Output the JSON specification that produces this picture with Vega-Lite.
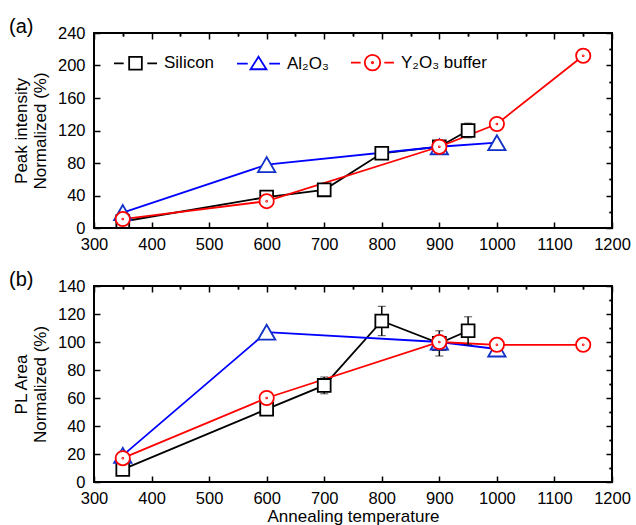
{
  "$schema": "https://vega.github.io/schema/vega-lite/v6.json",
  "padding": {"left": 8, "top": 16, "right": 5, "bottom": 0},
  "config": {
    "font": "Liberation Sans",
    "view": {"stroke": "black", "strokeWidth": 2},
    "axis": {
      "domain": false,
      "grid": false,
      "tickColor": "black",
      "tickWidth": 1.5,
      "labelColor": "black",
      "labelFont": "Liberation Sans",
      "labelFontSize": 16.5,
      "labelOverlap": false,
      "labelFlush": false,
      "format": "d",
      "titleFont": "Liberation Sans",
      "titleFontSize": 17,
      "titleFontWeight": "normal",
      "titleColor": "black"
    },
    "legend": {
      "labelFont": "Liberation Sans",
      "labelFontSize": 17,
      "labelColor": "black",
      "symbolSize": 1849,
      "symbolStrokeWidth": 1.8,
      "symbolFillColor": "white",
      "symbolOpacity": 1,
      "labelOffset": 6,
      "columnPadding": 18,
      "padding": 0
    },
    "title": {
      "font": "Liberation Sans",
      "fontSize": 20,
      "fontWeight": "normal",
      "anchor": "start",
      "frame": "group",
      "dx": -85,
      "dy": 14,
      "offset": 2,
      "color": "black"
    },
    "concat": {"spacing": 15}
  },
  "datasets": {
    "a": [
      {"series": "Silicon", "temp": 350, "value": 8},
      {"series": "Silicon", "temp": 600, "value": 38, "err": 3},
      {"series": "Silicon", "temp": 700, "value": 47, "err": 5},
      {"series": "Silicon", "temp": 800, "value": 92},
      {"series": "Silicon", "temp": 900, "value": 100, "err": 3},
      {"series": "Silicon", "temp": 950, "value": 120, "err": 9},
      {"series": "Al₂O₃", "temp": 350, "value": 19},
      {"series": "Al₂O₃", "temp": 600, "value": 78},
      {"series": "Al₂O₃", "temp": 900, "value": 100},
      {"series": "Al₂O₃", "temp": 1000, "value": 105},
      {"series": "Y₂O₃ buffer", "temp": 350, "value": 11},
      {"series": "Y₂O₃ buffer", "temp": 600, "value": 33},
      {"series": "Y₂O₃ buffer", "temp": 900, "value": 100},
      {"series": "Y₂O₃ buffer", "temp": 1000, "value": 128},
      {"series": "Y₂O₃ buffer", "temp": 1150, "value": 212}
    ],
    "b": [
      {"series": "Silicon", "temp": 350, "value": 9},
      {"series": "Silicon", "temp": 600, "value": 52},
      {"series": "Silicon", "temp": 700, "value": 69, "err": 6},
      {"series": "Silicon", "temp": 800, "value": 115, "err": 10.5},
      {"series": "Silicon", "temp": 900, "value": 99, "err": 9},
      {"series": "Silicon", "temp": 950, "value": 108, "err": 10},
      {"series": "Al₂O₃", "temp": 350, "value": 19},
      {"series": "Al₂O₃", "temp": 600, "value": 107},
      {"series": "Al₂O₃", "temp": 900, "value": 100},
      {"series": "Al₂O₃", "temp": 1000, "value": 95},
      {"series": "Y₂O₃ buffer", "temp": 350, "value": 17},
      {"series": "Y₂O₃ buffer", "temp": 600, "value": 60},
      {"series": "Y₂O₃ buffer", "temp": 900, "value": 100},
      {"series": "Y₂O₃ buffer", "temp": 1000, "value": 98},
      {"series": "Y₂O₃ buffer", "temp": 1150, "value": 98}
    ]
  },
  "vconcat": [
    {
      "title": "(a)",
      "width": 518,
      "height": 195,
      "data": {"name": "a"},
      "resolve": {"axis": {"x": "independent", "y": "independent"}},
      "layer": [
        {
          "transform": [{"filter": "datum.series === 'Silicon'"}],
          "mark": {"type": "line", "strokeWidth": 1.8, "stroke": "#000000"},
          "encoding": {
            "x": {"field": "temp", "type": "quantitative", "scale": {"domain": [300, 1200], "nice": false},
              "axis": {"values": [300, 400, 500, 600, 700, 800, 900, 1000, 1100, 1200], "tickSize": -6, "labelPadding": 14, "title": null}},
            "y": {"field": "value", "type": "quantitative", "scale": {"domain": [0, 240], "nice": false},
              "axis": {"values": [0, 40, 80, 120, 160, 200, 240], "tickSize": -6, "labelPadding": 15, "titlePadding": 8, "title": ["Peak intensity", "Normalized  (%)"]}}
          }
        },
        {
          "transform": [{"filter": "datum.series === 'Al₂O₃'"}],
          "mark": {"type": "line", "strokeWidth": 1.8, "stroke": "#0000ff"},
          "encoding": {
            "x": {"field": "temp", "type": "quantitative", "axis": null},
            "y": {"field": "value", "type": "quantitative", "axis": null}
          }
        },
        {
          "transform": [{"filter": "datum.series === 'Y₂O₃ buffer'"}],
          "mark": {"type": "line", "strokeWidth": 1.8, "stroke": "#ff0000"},
          "encoding": {
            "x": {"field": "temp", "type": "quantitative", "axis": null},
            "y": {"field": "value", "type": "quantitative", "axis": null}
          }
        },
        {
          "transform": [{"filter": "isValid(datum.err)"}],
          "mark": {"type": "errorbar", "color": "black", "ticks": {"size": 8, "strokeWidth": 1.5}, "rule": {"strokeWidth": 1.5}},
          "encoding": {
            "x": {"field": "temp", "type": "quantitative", "axis": null},
            "y": {"field": "value", "type": "quantitative", "axis": null},
            "yError": {"field": "err"}
          }
        },
        {
          "transform": [{"filter": "datum.series === 'Silicon'"}],
          "mark": {"type": "point", "shape": "square", "size": 165, "filled": true, "fill": "white", "stroke": "black", "strokeWidth": 1.8, "opacity": 1},
          "encoding": {
            "x": {"field": "temp", "type": "quantitative",
              "axis": {"values": [350, 450, 550, 650, 750, 850, 950, 1050, 1150], "tickSize": -3, "labels": false, "title": null}},
            "y": {"field": "value", "type": "quantitative",
              "axis": {"values": [20, 60, 100, 140, 180, 220], "tickSize": -3, "labels": false, "title": null}}
          }
        },
        {
          "transform": [{"filter": "datum.series === 'Al₂O₃'"}],
          "mark": {"type": "point", "shape": "triangle-up", "size": 300, "filled": true, "fill": "white", "stroke": "#1030c8", "strokeWidth": 1.8, "opacity": 1},
          "encoding": {
            "x": {"field": "temp", "type": "quantitative",
              "axis": {"orient": "top", "values": [300, 400, 500, 600, 700, 800, 900, 1000, 1100, 1200], "tickSize": -6, "labels": false, "title": null}},
            "y": {"field": "value", "type": "quantitative",
              "axis": {"orient": "right", "values": [0, 40, 80, 120, 160, 200, 240], "tickSize": -6, "labels": false, "title": null}}
          }
        },
        {
          "transform": [{"filter": "datum.series === 'Y₂O₃ buffer'"}],
          "mark": {"type": "point", "shape": "M1,0A1,1 0 1,1 -1,0A1,1 0 1,1 1,0Z M0.06,0A0.06,0.06 0 1,1 -0.06,0A0.06,0.06 0 1,1 0.06,0Z", "size": 204, "filled": true, "fill": "white", "stroke": "#ff0000", "strokeWidth": 1.8, "opacity": 1},
          "encoding": {
            "x": {"field": "temp", "type": "quantitative",
              "axis": {"orient": "top", "values": [350, 450, 550, 650, 750, 850, 950, 1050, 1150], "tickSize": -3, "labels": false, "title": null}},
            "y": {"field": "value", "type": "quantitative",
              "axis": {"orient": "right", "values": [20, 60, 100, 140, 180, 220], "tickSize": -3, "labels": false, "title": null}}
          }
        },
        {
          "mark": {"type": "point", "filled": true, "fill": "white", "opacity": 0},
          "encoding": {
            "x": {"field": "temp", "type": "quantitative", "axis": null},
            "y": {"field": "value", "type": "quantitative", "axis": null},
            "stroke": {"field": "series", "type": "nominal",
              "scale": {"domain": ["Silicon", "Al₂O₃", "Y₂O₃ buffer"], "range": ["#000000", "#0000ff", "#ff0000"]},
              "legend": {"orient": "none", "legendX": 19, "legendY": 7, "direction": "horizontal", "title": null}},
            "shape": {"field": "series", "type": "nominal",
              "scale": {"domain": ["Silicon", "Al₂O₃", "Y₂O₃ buffer"],
                "range": [
                  "M-1,0H-0.55M0.55,0H1M-0.295,-0.295H0.295V0.295H-0.295Z",
                  "M-1,0H-0.5M0.5,0H1M0,-0.32L0.37,0.26H-0.37Z",
                  "M-1,0H-0.55M0.55,0H1M0.36,0A0.36,0.36 0 1,1 -0.36,0A0.36,0.36 0 1,1 0.36,0Z M0.03,0A0.03,0.03 0 1,1 -0.03,0A0.03,0.03 0 1,1 0.03,0Z"
                ]},
              "legend": {"orient": "none", "legendX": 19, "legendY": 7, "direction": "horizontal", "title": null}}
          }
        }
      ]
    },
    {
      "title": "(b)",
      "width": 518,
      "height": 196,
      "data": {"name": "b"},
      "resolve": {"axis": {"x": "independent", "y": "independent"}},
      "layer": [
        {
          "transform": [{"filter": "datum.series === 'Silicon'"}],
          "mark": {"type": "line", "strokeWidth": 1.8, "stroke": "#000000"},
          "encoding": {
            "x": {"field": "temp", "type": "quantitative", "scale": {"domain": [300, 1200], "nice": false},
              "axis": {"values": [300, 400, 500, 600, 700, 800, 900, 1000, 1100, 1200], "tickSize": -6, "labelPadding": 14, "titlePadding": 2, "title": "Annealing temperature"}},
            "y": {"field": "value", "type": "quantitative", "scale": {"domain": [0, 140], "nice": false},
              "axis": {"values": [0, 20, 40, 60, 80, 100, 120, 140], "tickSize": -6, "labelPadding": 15, "titlePadding": 8, "title": ["PL Area", "Normalized (%)"]}}
          }
        },
        {
          "transform": [{"filter": "datum.series === 'Al₂O₃'"}],
          "mark": {"type": "line", "strokeWidth": 1.8, "stroke": "#0000ff"},
          "encoding": {
            "x": {"field": "temp", "type": "quantitative", "axis": null},
            "y": {"field": "value", "type": "quantitative", "axis": null}
          }
        },
        {
          "transform": [{"filter": "datum.series === 'Y₂O₃ buffer'"}],
          "mark": {"type": "line", "strokeWidth": 1.8, "stroke": "#ff0000"},
          "encoding": {
            "x": {"field": "temp", "type": "quantitative", "axis": null},
            "y": {"field": "value", "type": "quantitative", "axis": null}
          }
        },
        {
          "transform": [{"filter": "isValid(datum.err)"}],
          "mark": {"type": "errorbar", "color": "black", "ticks": {"size": 8, "strokeWidth": 1.5}, "rule": {"strokeWidth": 1.5}},
          "encoding": {
            "x": {"field": "temp", "type": "quantitative", "axis": null},
            "y": {"field": "value", "type": "quantitative", "axis": null},
            "yError": {"field": "err"}
          }
        },
        {
          "transform": [{"filter": "datum.series === 'Silicon'"}],
          "mark": {"type": "point", "shape": "square", "size": 165, "filled": true, "fill": "white", "stroke": "black", "strokeWidth": 1.8, "opacity": 1},
          "encoding": {
            "x": {"field": "temp", "type": "quantitative",
              "axis": {"values": [350, 450, 550, 650, 750, 850, 950, 1050, 1150], "tickSize": -3, "labels": false, "title": null}},
            "y": {"field": "value", "type": "quantitative",
              "axis": {"values": [10, 30, 50, 70, 90, 110, 130], "tickSize": -3, "labels": false, "title": null}}
          }
        },
        {
          "transform": [{"filter": "datum.series === 'Al₂O₃'"}],
          "mark": {"type": "point", "shape": "triangle-up", "size": 300, "filled": true, "fill": "white", "stroke": "#1030c8", "strokeWidth": 1.8, "opacity": 1},
          "encoding": {
            "x": {"field": "temp", "type": "quantitative",
              "axis": {"orient": "top", "values": [300, 400, 500, 600, 700, 800, 900, 1000, 1100, 1200], "tickSize": -6, "labels": false, "title": null}},
            "y": {"field": "value", "type": "quantitative",
              "axis": {"orient": "right", "values": [0, 20, 40, 60, 80, 100, 120, 140], "tickSize": -6, "labels": false, "title": null}}
          }
        },
        {
          "transform": [{"filter": "datum.series === 'Y₂O₃ buffer'"}],
          "mark": {"type": "point", "shape": "M1,0A1,1 0 1,1 -1,0A1,1 0 1,1 1,0Z M0.06,0A0.06,0.06 0 1,1 -0.06,0A0.06,0.06 0 1,1 0.06,0Z", "size": 204, "filled": true, "fill": "white", "stroke": "#ff0000", "strokeWidth": 1.8, "opacity": 1},
          "encoding": {
            "x": {"field": "temp", "type": "quantitative",
              "axis": {"orient": "top", "values": [350, 450, 550, 650, 750, 850, 950, 1050, 1150], "tickSize": -3, "labels": false, "title": null}},
            "y": {"field": "value", "type": "quantitative",
              "axis": {"orient": "right", "values": [10, 30, 50, 70, 90, 110, 130], "tickSize": -3, "labels": false, "title": null}}
          }
        },
        {
          "mark": {"type": "point", "filled": true, "fill": "white", "opacity": 0},
          "encoding": {
            "x": {"field": "temp", "type": "quantitative", "axis": null},
            "y": {"field": "value", "type": "quantitative", "axis": null},
            "stroke": {"field": "series", "type": "nominal",
              "scale": {"domain": ["Silicon", "Al₂O₃", "Y₂O₃ buffer"], "range": ["#000000", "#0000ff", "#ff0000"]},
              "legend": {"orient": "none", "legendX": 114, "legendY": 149, "direction": "horizontal", "title": null}},
            "shape": {"field": "series", "type": "nominal",
              "scale": {"domain": ["Silicon", "Al₂O₃", "Y₂O₃ buffer"],
                "range": [
                  "M-1,0H-0.55M0.55,0H1M-0.295,-0.295H0.295V0.295H-0.295Z",
                  "M-1,0H-0.5M0.5,0H1M0,-0.32L0.37,0.26H-0.37Z",
                  "M-1,0H-0.55M0.55,0H1M0.36,0A0.36,0.36 0 1,1 -0.36,0A0.36,0.36 0 1,1 0.36,0Z M0.03,0A0.03,0.03 0 1,1 -0.03,0A0.03,0.03 0 1,1 0.03,0Z"
                ]},
              "legend": {"orient": "none", "legendX": 114, "legendY": 149, "direction": "horizontal", "title": null}}
          }
        }
      ]
    }
  ]
}
